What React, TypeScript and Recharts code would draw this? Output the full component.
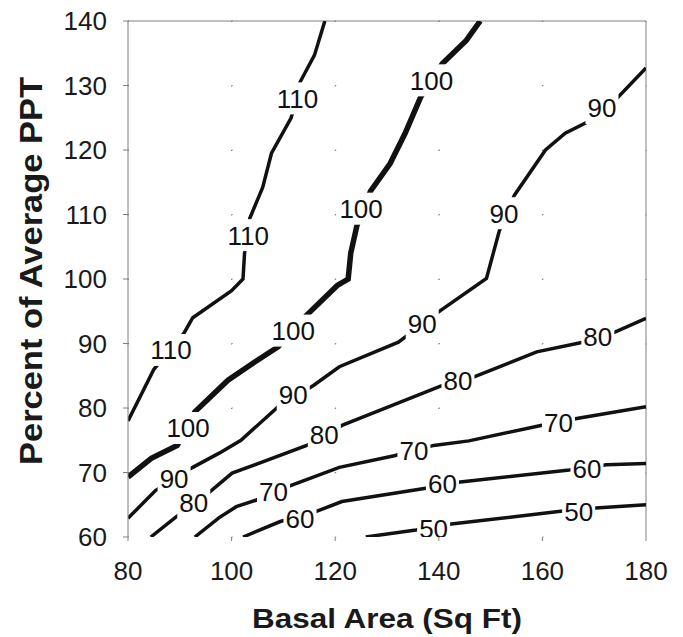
import React from 'react';
import {
  LineChart,
  Line,
  XAxis,
  YAxis,
  CartesianGrid,
  ReferenceLine,
  Scatter,
} from 'recharts';

// ---------- data ----------
const X_TICKS = [80, 100, 120, 140, 160, 180];
const Y_TICKS = [60, 70, 80, 90, 100, 110, 120, 130, 140];

// contour lines: [basal area, percent of average PPT]
const C110: [number, number][] = [
  [80, 78], [85, 86], [90.8, 91.6], [92.5, 94], [100, 98.2], [102.2, 100],
  [102.5, 104], [103.5, 109.4], [106, 114.2], [107.7, 119.5], [111.5, 125],
  [113.2, 130.5], [116, 134.7], [118, 140],
];
const C100: [number, number][] = [
  [80, 69.3], [84.5, 72.2], [89.5, 74.2], [92.9, 79.4], [99.3, 84.3], [104.4, 87.1],
  [109, 89.5], [114.5, 94.4], [120.4, 99], [122.5, 100], [123, 104], [124.2, 108.3],
  [126.8, 113.6], [130.6, 117.9], [133.5, 122.6], [136.5, 128.2], [140.7, 133.4],
  [145.3, 137], [148, 140],
];
const C90: [number, number][] = [
  [80, 62.9], [85.3, 67.2], [92.5, 70.8], [97.6, 73], [101.8, 75], [109, 80.2],
  [115.8, 83.5], [120.8, 86.4], [132.2, 90.2], [140.3, 95.1], [149.2, 100.1],
  [151.7, 107.5], [154.6, 113], [160.6, 120], [164.4, 122.6], [168.6, 124.3],
  [174.6, 128.2], [180, 132.7],
];
const C80: [number, number][] = [
  [84.4, 60], [89.1, 63], [95.8, 67], [100.1, 69.9], [114.5, 74.2], [121.3, 77.3],
  [140.7, 83.5], [146.7, 84.8], [158.9, 88.7], [167.8, 90.2], [174.1, 91.8], [180, 93.9],
];
const C70: [number, number][] = [
  [92.9, 60], [97.6, 63], [100.9, 64.7], [104.7, 65.7], [111.5, 68], [120.8, 70.8],
  [131.4, 72.6], [139, 74.2], [145.8, 74.9], [159.7, 77.3], [166.9, 78.4], [180, 80.2],
];
const C60: [number, number][] = [
  [102.2, 60], [109.4, 62.4], [116.5, 64], [121.3, 65.5], [137.8, 67.6],
  [143.7, 68.5], [165.2, 70.4], [172.4, 71.2], [180, 71.4],
];
const C50: [number, number][] = [
  [125.9, 60], [135.6, 61.1], [142.4, 62], [163.5, 64], [170.3, 64.5], [180, 65],
];

// contour label positions
const L110: [number, number][] = [[88.3, 89.0], [103.2, 106.8], [112.7, 128.0]];
const L100: [number, number][] = [[91.6, 76.9], [111.9, 92.0], [125.0, 110.9], [138.6, 130.8]];
const L90: [number, number][] = [[88.9, 69.0], [111.9, 82.0], [136.8, 93.1], [152.6, 110.2], [171.5, 126.5]];
const L80: [number, number][] = [[92.7, 65.3], [117.9, 75.8], [143.7, 84.3], [170.7, 91.0]];
const L70: [number, number][] = [[108.1, 67.0], [135.2, 73.4], [163.1, 77.8]];
const L60: [number, number][] = [[113.2, 62.9], [140.7, 68.3], [168.6, 70.6]];
const L50: [number, number][] = [[139.0, 61.3], [167.0, 64.0]];

const LEVELS = [110, 100, 90, 80, 70, 60, 50];
const LINES = [C110, C100, C90, C80, C70, C60, C50];
const LABELS = [L110, L100, L90, L80, L70, L60, L50];

// ---------- layout / style ----------
const W = 683;
const H = 637;
const MARGIN = { top: 21, right: 37, bottom: 0, left: 0 };
const Y_AXIS_W = 128;
const X_AXIS_H = 100;
const PLOT_W = W - MARGIN.left - MARGIN.right - Y_AXIS_W;
const PLOT_H = H - MARGIN.top - MARGIN.bottom - X_AXIS_H;
const FONT = '"Liberation Sans", Arial, Helvetica, sans-serif';
const AXIS_COLOR = '#808080';
const INK = '#111111';

const toPts = (arr: [number, number][]) => arr.map(([x, y]) => ({ x, y }));

const makeMaskShape = (text: string) => (props: any) => {
  const { cx, cy } = props;
  if (cx == null || cy == null) return <g />;
  const w = text.length * 14.5 + 4;
  return <rect x={cx - w / 2} y={cy - 16} width={w} height={32} fill="#ffffff" />;
};

const makeTextShape = (text: string) => (props: any) => {
  const { cx, cy } = props;
  if (cx == null || cy == null) return <g />;
  return (
    <text
      x={cx}
      y={cy}
      dy="0.36em"
      textAnchor="middle"
      fontSize={26}
      fontFamily={FONT}
      fill={INK}
    >
      {text}
    </text>
  );
};

const XTitle = (props: any) => {
  const vb = props.viewBox || { x: 128, y: 537, width: PLOT_W, height: X_AXIS_H };
  return (
    <text
      x={vb.x + vb.width / 2}
      y={vb.y + 91}
      textAnchor="middle"
      fontSize={28}
      fontWeight="bold"
      fontFamily={FONT}
      fill="#1a1a1a"
      textLength={270}
      lengthAdjust="spacingAndGlyphs"
    >
      Basal Area (Sq Ft)
    </text>
  );
};

const YTitle = (props: any) => {
  const vb = props.viewBox || { x: 0, y: 21, width: Y_AXIS_W, height: PLOT_H };
  const cx = 42;
  const cy = vb.y + vb.height / 2 - 8;
  return (
    <text
      x={0}
      y={0}
      transform={`translate(${cx},${cy}) rotate(-90)`}
      textAnchor="middle"
      fontSize={32}
      fontWeight="bold"
      fontFamily={FONT}
      fill="#1a1a1a"
      textLength={388}
      lengthAdjust="spacingAndGlyphs"
    >
      Percent of Average PPT
    </text>
  );
};

export default function App() {
  return (
    <div style={{ position: 'absolute', left: 0, top: 0, width: W, height: H, background: '#fff' }}>
      <LineChart width={W} height={H} margin={MARGIN}>
        <CartesianGrid
          horizontal={true}
          vertical={false}
          stroke="#777"
          strokeDasharray={`1 ${PLOT_W / 5 - 1}`}
        />
        <CartesianGrid
          horizontal={false}
          vertical={true}
          stroke="#777"
          strokeDasharray={`1 ${PLOT_H / 8 - 1}`}
        />
        <XAxis
          type="number"
          dataKey="x"
          domain={[80, 180]}
          ticks={X_TICKS}
          interval={0}
          height={X_AXIS_H}
          axisLine={false}
          tickLine={{ stroke: AXIS_COLOR }}
          tickSize={4}
          tickMargin={21}
          tick={{ fill: '#1a1a1a', fontSize: 26, fontFamily: FONT }}
          label={<XTitle />}
          allowDataOverflow
        />
        <YAxis
          type="number"
          dataKey="y"
          domain={[60, 140]}
          ticks={Y_TICKS}
          interval={0}
          width={Y_AXIS_W}
          axisLine={{ stroke: AXIS_COLOR }}
          tickLine={{ stroke: AXIS_COLOR }}
          tickSize={5}
          tickMargin={16}
          tick={{ fill: '#1a1a1a', fontSize: 26, fontFamily: FONT }}
          label={<YTitle />}
          allowDataOverflow
        />
        <ReferenceLine y={140} stroke={AXIS_COLOR} strokeWidth={1} />
        <ReferenceLine x={180} stroke={AXIS_COLOR} strokeWidth={1} />
        {LINES.map((arr, i) => (
          <Line
            key={`line-${LEVELS[i]}`}
            data={toPts(arr)}
            dataKey="y"
            type="linear"
            stroke={INK}
            strokeWidth={LEVELS[i] === 100 ? 5.5 : 3.5}
            dot={false}
            activeDot={false}
            isAnimationActive={false}
            legendType="none"
          />
        ))}
        {LABELS.map((arr, i) => (
          <Scatter
            key={`mask-${LEVELS[i]}`}
            data={toPts(arr)}
            dataKey="y"
            shape={makeMaskShape(String(LEVELS[i]))}
            isAnimationActive={false}
            legendType="none"
          />
        ))}
        {LABELS.map((arr, i) => (
          <Scatter
            key={`text-${LEVELS[i]}`}
            data={toPts(arr)}
            dataKey="y"
            shape={makeTextShape(String(LEVELS[i]))}
            isAnimationActive={false}
            legendType="none"
          />
        ))}
      </LineChart>
    </div>
  );
}
